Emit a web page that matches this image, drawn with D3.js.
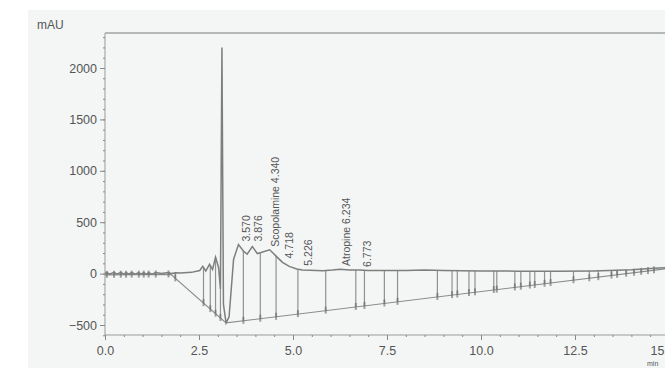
<!DOCTYPE html>
<html>
<head>
<meta charset="utf-8">
<script src="https://cdn.jsdelivr.net/npm/d3@7"></script>
<style>
  body { margin: 0; background: #fff; }
  text { font-family: "Liberation Sans", Arial, sans-serif; fill: #555; }
</style>
</head>
<body>
<div id="chart"></div>
<script>
// signal trace [min, mAU]
const signal = [
  [0, 0], [0.05, 12], [0.12, -6], [0.24, 12], [0.32, -6], [0.42, 12], [0.5, -6],
  [0.56, 10], [0.64, -6], [0.71, 12], [0.8, -6], [0.9, 10], [0.96, -6], [1.03, 10],
  [1.1, -6], [1.16, 10], [1.25, -6], [1.35, 10], [1.5, 0], [1.69, 10], [1.78, 0],
  [1.87, 8], [2.0, 5], [2.3, 12], [2.52, 30], [2.6, 70], [2.68, 25], [2.78, 90],
  [2.86, 40], [2.94, 160], [3.02, 60], [3.07, -150], [3.11, 2200], [3.15, -300],
  [3.22, -480], [3.3, -420], [3.42, 140], [3.55, 283], [3.68, 220], [3.78, 190],
  [3.92, 262], [4.05, 195], [4.15, 205], [4.38, 232], [4.55, 170], [4.72, 110],
  [4.9, 70], [5.1, 45], [5.25, 36], [5.8, 28], [6.05, 34], [6.25, 42], [6.5, 36],
  [6.77, 34], [7.0, 30], [8.0, 30], [8.5, 34], [9.0, 30], [10.0, 26], [11.0, 24],
  [12.0, 22], [13.0, 26], [14.0, 38], [14.6, 52], [15.0, 58]
];

// integration baseline [min, mAU]
const baseline = [[0, -12], [1.75, -8], [3.22, -480], [15, 50]];

// drop lines (min)
const drops = [
  0.05, 0.24, 0.42, 0.56, 0.71, 0.9, 1.03, 1.16, 1.35, 1.69, 1.87,
  2.62, 2.8, 2.94, 3.07, 3.68, 4.13, 4.55, 5.13, 5.87, 6.67, 6.9, 7.43, 7.78,
  8.84, 9.23, 9.37, 9.68, 9.84, 10.34, 10.42, 10.9, 11.06, 11.3, 11.43, 11.69,
  11.85, 12.46, 12.88, 13.12, 13.47, 13.62, 13.86, 14.07, 14.26, 14.44, 14.6
];

// peak labels
const peakTimes = [3.570, 3.876, 4.340, 4.718, 5.226, 6.234, 6.773];
const peakNames = ["3.570", "3.876", "Scopolamine 4.340", "4.718", "5.226", "Atropine 6.234", "6.773"];
const peakHeights = [283, 283, 232, 118, 48, 45, 36];

const xTicks = [0, 2.5, 5, 7.5, 10, 12.5, 15];
const yTicks = [-500, 0, 500, 1000, 1500, 2000];

const width = 665, height = 368;

const svg = d3.select("#chart").append("svg")
  .attr("width", width)
  .attr("height", height);

// panel background
svg.append("rect")
  .attr("x", 28).attr("y", 10)
  .attr("width", width - 28).attr("height", height - 10)
  .attr("fill", "#f4f6f5");

const x = d3.scaleLinear().domain([0, 15]).range([105, 669]);
const y = d3.scaleLinear().domain([-500, 2000]).range([325, 68]);

// frame top line
svg.append("line")
  .attr("x1", 105).attr("x2", width)
  .attr("y1", 33).attr("y2", 33)
  .attr("stroke", "#b4b8b7").attr("stroke-width", 2);

// y axis
const yAxis = svg.append("g")
  .attr("transform", "translate(105,0)")
  .call(d3.axisLeft(y).tickValues(yTicks).tickSize(5).tickPadding(3).tickFormat(d3.format("d")));
yAxis.select(".domain").attr("d", "M0,33V335");
const yMinor = svg.append("g")
  .attr("transform", "translate(105,0)")
  .call(d3.axisLeft(y).tickValues(d3.range(-600, 2400, 100)).tickSize(2).tickFormat(""));
yMinor.select(".domain").remove();

// x axis
const xAxis = svg.append("g")
  .attr("transform", "translate(0,335)")
  .call(d3.axisBottom(x).tickValues(xTicks).tickSize(5).tickPadding(6)
    .tickFormat(d => d === 15 ? "15" : d3.format(".1f")(d)));
xAxis.select(".domain").attr("d", "M105,0H" + width);
const xMinor = svg.append("g")
  .attr("transform", "translate(0,335)")
  .call(d3.axisBottom(x).tickValues(d3.range(0, 15.5, 0.5)).tickSize(2).tickFormat(""));
xMinor.select(".domain").remove();

svg.selectAll(".tick line").attr("stroke", "#888");
svg.selectAll(".domain").attr("stroke", "#999");
svg.selectAll(".tick text").attr("font-size", 12.5).attr("fill", "#555");
xAxis.select(".tick:last-child text").attr("text-anchor", "end").attr("dx", -5);

svg.append("text").attr("x", 37).attr("y", 29).attr("font-size", 12).text("mAU");
svg.append("text").attr("x", 647).attr("y", 366).attr("font-size", 7).text("min");

// helpers to interpolate
const interp = (pts, t) => {
  for (let i = 1; i < pts.length; i++) {
    if (t <= pts[i][0]) {
      const a = pts[i - 1], b = pts[i];
      return a[1] + (b[1] - a[1]) * (t - a[0]) / (b[0] - a[0]);
    }
  }
  return pts[pts.length - 1][1];
};

const line = d3.line().x(d => x(d[0])).y(d => y(d[1]));

// baseline
svg.append("path")
  .datum(baseline)
  .attr("d", line)
  .attr("fill", "none")
  .attr("stroke", "#8a8d8c")
  .attr("stroke-width", 1.2);

// drop lines
svg.append("g").selectAll("line")
  .data(drops)
  .join("line")
  .attr("x1", d => x(d)).attr("x2", d => x(d))
  .attr("y1", d => y(interp(signal, d)))
  .attr("y2", d => y(interp(baseline, d)))
  .attr("stroke", "#8f9291")
  .attr("stroke-width", 1.2);

// marker blobs at baseline ends
svg.append("g").selectAll("rect")
  .data(drops)
  .join("rect")
  .attr("x", d => x(d) - 1)
  .attr("y", d => y(interp(baseline, d)) - 4)
  .attr("width", 2).attr("height", 7)
  .attr("fill", "#666").attr("opacity", 0.6);

// signal
svg.append("path")
  .datum(signal)
  .attr("d", line)
  .attr("fill", "none")
  .attr("stroke", "#7c7f7e")
  .attr("stroke-width", 1.5);

// peak labels
svg.append("g").selectAll("text")
  .data(peakNames)
  .join("text")
  .attr("transform", (d, i) =>
    `translate(${x(peakTimes[i]) + 11},${y(peakHeights[i]) - 3}) rotate(-90)`)
  .attr("font-size", 10.5)
  .attr("fill", "#444")
  .text(d => d);
</script>
</body>
</html>
